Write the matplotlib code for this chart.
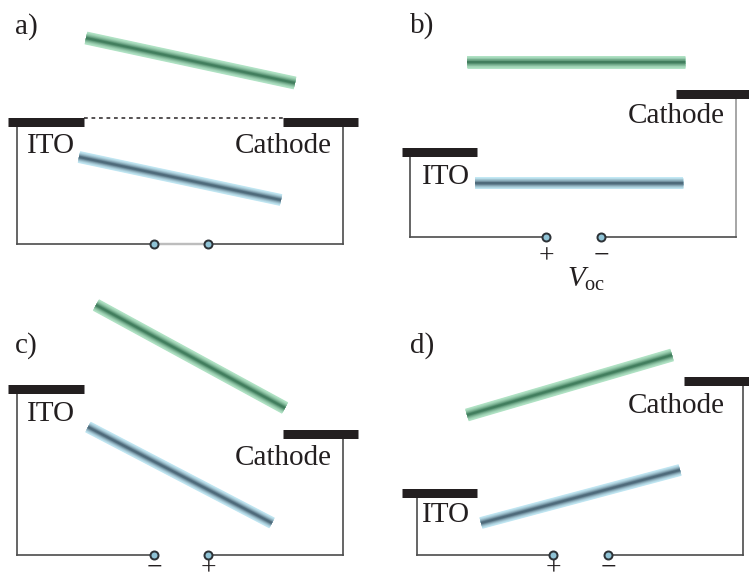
import numpy as np
import matplotlib.pyplot as plt
from matplotlib.colors import to_rgb

plt.rcParams['font.family'] = ['Liberation Serif', 'DejaVu Serif']
plt.rcParams['mathtext.fontset'] = 'custom'
plt.rcParams['mathtext.rm'] = 'Liberation Serif'
plt.rcParams['mathtext.it'] = 'Liberation Serif:italic'

# four band diagrams: a) short circuit, b) open circuit, c) reverse bias, d) forward bias
panel_labels = ['a)', 'b)', 'c)', 'd)']

# LUMO (green) and HOMO (blue) levels as (x0, y0, x1, y1)
lumo = [(86, 38, 295, 83), (467, 62, 685, 62), (96, 305, 285, 408), (467, 415, 672, 355)]
homo = [(79, 157, 281, 200), (475, 183, 683, 183), (88, 427, 272, 523), (481, 523, 680, 470)]

# electrode work functions as (x0, x1, level)
ito = [(8, 84, 122), (402, 477, 152), (8, 84, 389), (402, 477, 493)]
cathode = [(283, 358, 122), (676, 749, 94), (283, 358, 434), (684, 749, 381)]

# external circuit: left wire, right wire, bottom wire, two terminals
wire_left = [17, 410, 17, 417]
wire_right = [343, 736, 343, 743]
wire_bottom = [244, 237, 555, 555]
terminals = [(154, 208), (546, 601), (154, 208), (553, 608)]
terminal_signs = [None, ('+', '\u2212'), ('\u2212', '+'), ('+', '\u2212')]
sign_baseline = [None, 263, 575, 575]

label_pos = [(15, 34), (410, 33), (15, 353), (410, 353)]
ito_text = [(27, 153), (422, 184), (27, 421), (422, 522)]
cathode_text = [(235, 153), (628, 123), (235, 465), (628, 413)]

INK = '#231f20'
WIRE = '#505050'
PX = 0.72  # points per pixel at 100 dpi


def band(ax, seg, edge, centre, width=13):
    # shaded bar: wide pale stroke underneath, darker strokes toward the middle
    x0, y0, x1, y1 = seg
    c0, c1 = np.array(to_rgb(edge)), np.array(to_rgb(centre))
    n = 10
    for i in range(n):
        t = i / (n - 1)
        w = width * (1 - t) + 2 * t
        k = t ** 1.6
        col = c0 * (1 - k) + c1 * k
        ax.plot([x0, x1], [y0, y1], color=col, lw=w * PX,
                solid_capstyle='butt', zorder=3 + i * 0.01)


fig = plt.figure(figsize=(7.49, 5.81), dpi=100)
ax = fig.add_axes([0, 0, 1, 1])
ax.set_xlim(0, 749)
ax.set_ylim(581, 0)
ax.axis('off')

for i in range(4):
    band(ax, lumo[i], '#b2e4c6', '#427e5e')
    band(ax, homo[i], '#c2e8f4', '#4f6b7b', width=12)

    # electrodes
    for x0, x1, y in (ito[i], cathode[i]):
        ax.plot([x0, x1], [y, y], color=INK, lw=9 * PX, solid_capstyle='butt', zorder=4)

    # wiring
    yb = wire_bottom[i]
    t1, t2 = terminals[i]
    right_col = '#9a9a9a' if i == 1 else WIRE
    ax.plot([wire_left[i], wire_left[i]], [ito[i][2] + 4, yb], color=WIRE, lw=1.7 * PX, zorder=2)
    ax.plot([wire_right[i], wire_right[i]], [cathode[i][2] + 4, yb], color=right_col, lw=1.7 * PX, zorder=2)
    ax.plot([wire_left[i], t1], [yb, yb], color=WIRE, lw=1.7 * PX, zorder=2)
    ax.plot([t2, wire_right[i]], [yb, yb], color=WIRE, lw=1.7 * PX, zorder=2)
    if terminal_signs[i] is None:
        ax.plot([t1, t2], [yb, yb], color='#bdbdbd', lw=2.4 * PX, zorder=2)
    ax.plot([t1, t2], [yb, yb], 'o', ms=8 * PX, mfc='#8fc3d6', mec='#2e3338',
            mew=2 * PX, zorder=5)

    if terminal_signs[i] is not None:
        for xs, s in zip((t1, t2), terminal_signs[i]):
            ax.text(xs, sign_baseline[i], s, fontsize=20, color=INK,
                    ha='center', va='baseline')

    # text labels
    ax.text(*label_pos[i], panel_labels[i], fontsize=21, color=INK, va='baseline')
    ax.text(*ito_text[i], 'ITO', fontsize=21, color=INK, va='baseline')
    ax.text(*cathode_text[i], 'Cathode', fontsize=21, color=INK, va='baseline')

# Fermi levels aligned under short circuit
ax.plot([ito[0][1], cathode[0][0]], [118, 118], color=INK, lw=1.5 * PX,
        linestyle=(0, (2.5, 2.5)), zorder=2)

ax.text(567, 287, r'$V_{\mathrm{oc}}$', fontsize=21, color=INK, va='baseline')

fig.savefig('out.png', dpi=100)
